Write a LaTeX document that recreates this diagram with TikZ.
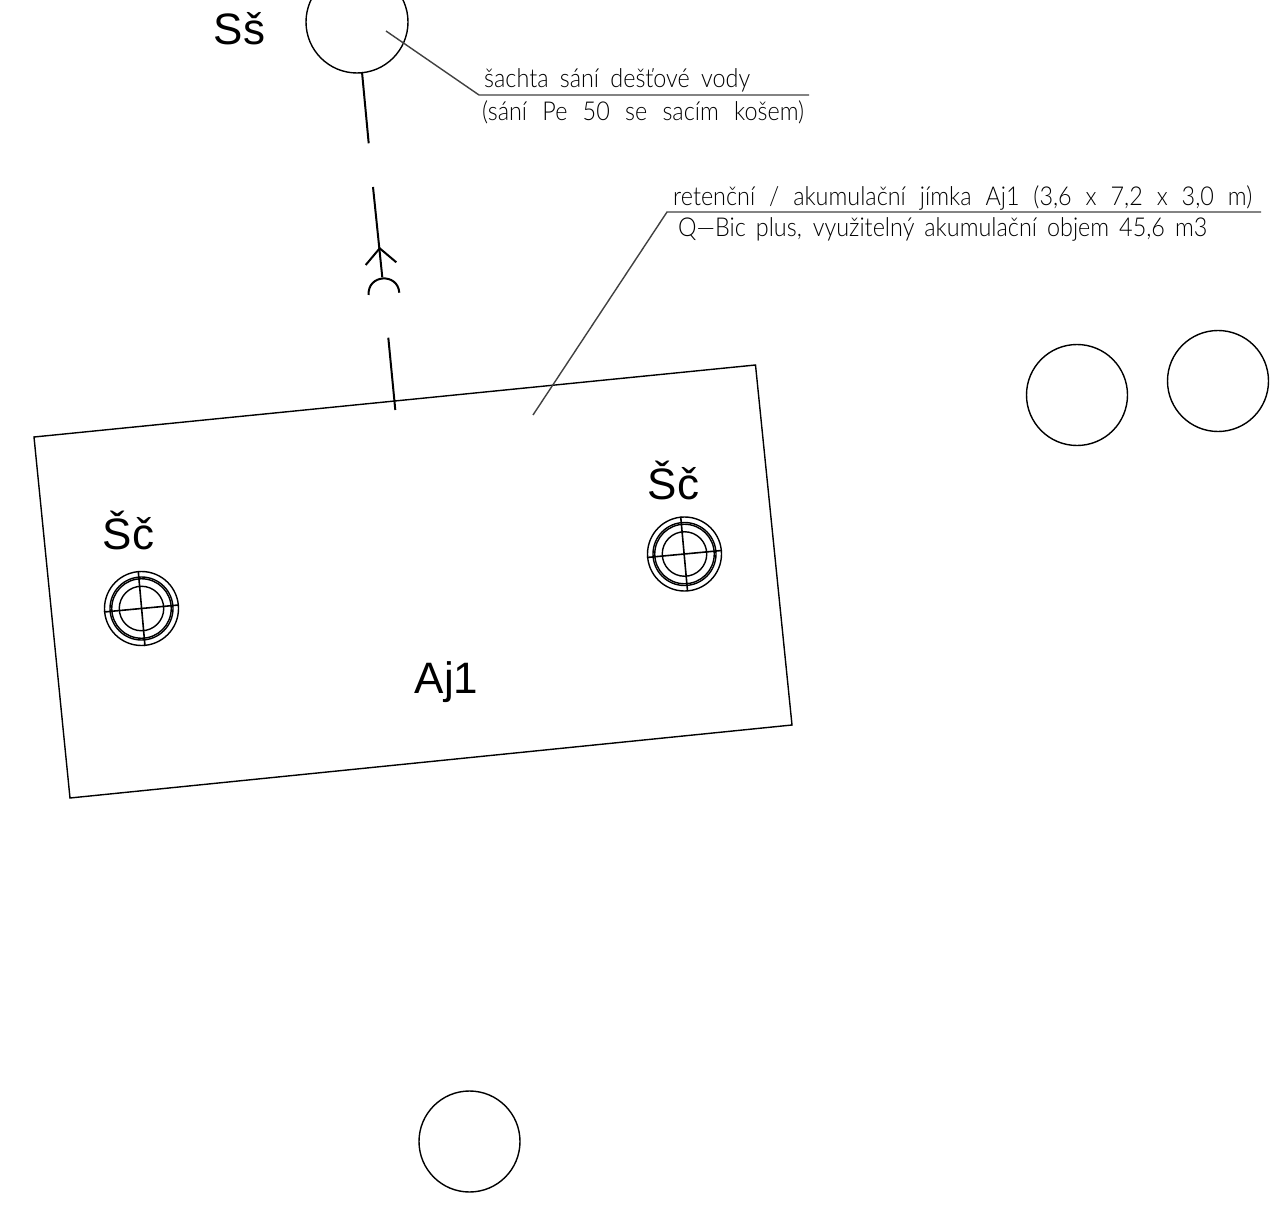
\documentclass[tikz,border=0pt]{standalone}
\usepackage{fontspec}
\setmainfont{Liberation Sans}
\newfontfamily\cadfont{Lato Light}
\newcommand{\cadline}[2]{\scalebox{0.9}[1]{\makebox[\dimexpr #1pt*10/9\relax][s]{#2}}}
\tikzset{
  thinline/.style={line width=1.4pt,color=black},
  leader/.style={line width=1.4pt,color=black!75},
  pipe/.style={line width=2pt,color=black},
  ring/.style={circle,draw,line width=1.4pt,inner sep=0pt,outer sep=0pt,minimum size=101pt},
  biglabel/.style={anchor=base west,inner sep=0pt,font=\fontsize{44}{44}\selectfont,text=black},
  cadlabel/.style={anchor=base west,inner sep=0pt,font=\cadfont\fontsize{26}{26}\selectfont,text=black},
}
\begin{document}
\begin{tikzpicture}[x=1pt,y=-1pt]
\useasboundingbox (0,0) rectangle (1274,1214);
% plain circles
\node[ring,minimum size=102pt] (ss) at (357,22) {};
\node[ring] (t1) at (1077,395) {};
\node[ring] (t2) at (1218,381) {};
\node[ring] (t3) at (469.5,1141.5) {};
% tank
\draw[thinline] (34,437) coordinate (a) -- (755.5,365) coordinate (b) -- (792,725) coordinate (c) -- (70,798) coordinate (d) -- cycle;
% pipe
\coordinate (p0) at (362,72);
\coordinate (p1) at (368.7,143.3);
\coordinate (p2) at (373,187);
\coordinate (p3) at (382.3,277.3);
\coordinate (p4) at (388.3,337.7);
\coordinate (p5) at (395.3,410);
\coordinate (tip) at (379.7,248.3);
\coordinate (w1) at (365.7,265);
\coordinate (w2) at (396.3,262.3);
\coordinate (s1) at (368.7,295);
\coordinate (s2) at (399.3,292.7);
\draw[pipe] (p0) -- (p1);
\draw[pipe] (p2) -- (p3);
\draw[pipe] (p4) -- (p5);
\draw[pipe] (w1) -- (tip) -- (w2);
\draw[pipe] (s1) .. controls (367,274.5) and (397.7,272.2) .. (s2);
% leaders
\coordinate (l1a) at (386,31);
\coordinate (l1b) at (479,95);
\coordinate (l1c) at (809,95);
\coordinate (l2a) at (533,415);
\coordinate (l2b) at (667,212);
\coordinate (l2c) at (1261,212);
\draw[leader] (l1a) -- (l1b) -- (l1c);
\draw[leader] (l2a) -- (l2b) -- (l2c);
% manholes
\foreach \n/\cx/\cy/\vax/\vay/\vbx/\vby/\hax/\hay/\hbx/\hby in {
  ml/141.5/608.5/138.3/571.7/145/646/104/612/178.5/605,
  mr/684.5/554/680.7/516.7/687.5/590.7/647/557.5/721.5/550.5}{
  \node[ring,minimum size=74pt] (\n o) at (\cx,\cy) {};
  \node[ring,minimum size=63pt] (\n a) at (\cx,\cy) {};
  \node[ring,minimum size=59.5pt] (\n b) at (\cx,\cy) {};
  \node[ring,minimum size=44.5pt] (\n c) at (\cx,\cy) {};
  \coordinate (\n t) at (\vax,\vay);
  \coordinate (\n u) at (\vbx,\vby);
  \coordinate (\n l) at (\hax,\hay);
  \coordinate (\n r) at (\hbx,\hby);
  \draw[line width=1.6pt] (\n t) -- (\n u);
  \draw[line width=1.6pt] (\n l) -- (\n r);
}
% labels
\node[biglabel] (lss) at (213.5,45) {Sš};
\node[biglabel] (lsl) at (102.5,549) {Šč};
\node[biglabel] (lsr) at (647.5,499) {Šč};
\node[biglabel] (laj) at (414.5,693) {Aj1};
\node[cadlabel] (c1) at (484,88) {\cadline{266}{šachta sání dešťové vody}};
\node[cadlabel] (c2) at (482,121) {\cadline{322}{(sání Pe 50 se sacím košem)}};
\node[cadlabel] (c3) at (673,206) {\cadline{579}{retenční / akumulační jímka Aj1 (3,6 x 7,2 x 3,0 m)}};
\node[cadlabel] (c4) at (678,237) {\cadline{529}{Q—Bic plus, využitelný akumulační objem 45,6 m3}};
\end{tikzpicture}
\end{document}
